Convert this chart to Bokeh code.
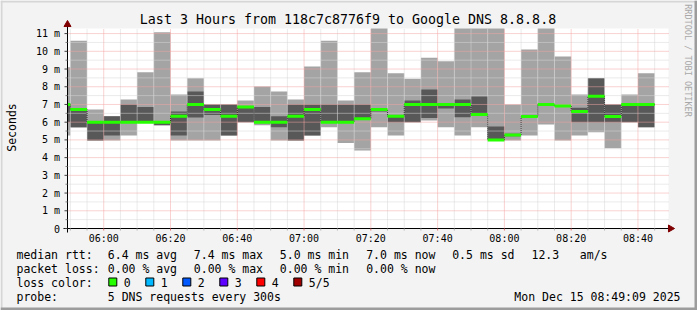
import math
from bokeh.plotting import figure
from bokeh.models import Range1d
from bokeh.core.properties import value
from bokeh.embed import file_html
from bokeh.resources import INLINE

# ---------------- data ----------------
starts = ["05:45", "05:50", "05:55", "06:00", "06:05", "06:10", "06:15", "06:20", "06:25",
          "06:30", "06:35", "06:40", "06:45", "06:50", "06:55", "07:00", "07:05", "07:10",
          "07:15", "07:20", "07:25", "07:30", "07:35", "07:40", "07:45", "07:50", "07:55",
          "08:00", "08:05", "08:10", "08:15", "08:20", "08:25", "08:30", "08:35", "08:40"]
ping_min = [5.25, 5.70, 4.97, 4.97, 5.25, 6.00, 5.82, 4.97, 4.97, 4.97, 5.25, 6.00,
            5.82, 4.97, 4.97, 5.25, 5.72, 4.83, 4.40, 5.72, 5.25, 6.00, 6.10, 5.72,
            5.25, 5.72, 4.98, 4.97, 5.25, 5.87, 4.97, 5.25, 5.43, 4.53, 6.00, 5.72]
ping_p2 = [6.00, 5.72, 4.97, 5.25, 6.00, 6.00, 5.82, 5.25, 6.27, 6.41, 5.25, 6.00,
           6.00, 5.72, 4.97, 5.25, 6.00, 6.00, 6.20, 6.60, 6.00, 6.00, 6.23, 6.77,
           6.28, 6.43, 4.98, 5.20, 6.30, 6.95, 6.85, 6.00, 6.00, 6.00, 6.00, 5.72]
median = [7.00, 6.72, 6.00, 6.00, 6.00, 6.00, 6.00, 6.34, 7.00, 6.72, 6.34, 6.85,
          6.00, 6.00, 6.34, 6.72, 6.00, 6.00, 6.20, 6.72, 6.34, 7.00, 7.00, 7.00,
          7.00, 6.43, 5.00, 5.28, 6.32, 7.00, 6.92, 6.60, 7.47, 6.32, 7.00, 7.00]
ping_p4 = [7.05, 6.75, 6.00, 6.33, 7.00, 6.85, 6.00, 6.60, 7.73, 7.00, 7.00, 6.85,
           6.85, 6.34, 7.00, 7.00, 7.00, 7.00, 7.00, 6.72, 6.40, 7.22, 7.84, 7.00,
           7.28, 7.45, 5.76, 5.35, 6.35, 7.00, 6.92, 6.81, 8.48, 7.00, 7.00, 7.00]
ping_max = [9.10, 10.60, 6.72, 6.33, 7.28, 8.82, 11.08, 7.56, 8.48, 7.00, 7.00, 7.22,
            8.01, 7.73, 7.28, 9.14, 10.60, 7.22, 8.82, 11.30, 8.76, 8.45, 9.63, 9.44,
            11.30, 11.30, 11.30, 7.00, 10.10, 11.30, 9.71, 7.56, 8.48, 7.00, 7.56, 8.76]

x_tick_labels = ["06:00", "06:20", "06:40", "07:00", "07:20", "07:40", "08:00", "08:20", "08:40"]
y_tick_values = [0, 1, 2, 3, 4, 5, 6, 7, 8, 9, 10, 11]
y_tick_labels = ["0", "1 m", "2 m", "3 m", "4 m", "5 m", "6 m", "7 m", "8 m", "9 m", "10 m", "11 m"]

title_text = "Last 3 Hours from 118c7c8776f9 to Google DNS 8.8.8.8"
rtt_label = "median rtt:"
rtt_stats = ["6.4 ms avg", "7.4 ms max", "5.0 ms min", "7.0 ms now", "0.5 ms sd", "12.3", "am/s"]
loss_label = "packet loss:"
loss_stats = ["0.00 % avg", "0.00 % max", "0.00 % min", "0.00 % now"]
color_label = "loss color:"
loss_names = ["0", "1", "2", "3", "4", "5/5"]
loss_colors = ["#26ff00", "#00b8ff", "#0059ff", "#5e00ff", "#ff0000", "#a10000"]
probe_label = "probe:"
probe_text = "5 DNS requests every 300s"
date_text = "Mon Dec 15 08:49:09 2025"
watermark = "RRDTOOL / TOBI OETIKER"
y_axis_title = "Seconds"
range_start = "05:49:09"
range_end = "08:49:09"
y_range_top = 11.287

# ---------------- layout ----------------
def to_min(s):
    parts = [int(v) for v in s.split(":")]
    m = parts[0] * 60 + parts[1]
    if len(parts) > 2:
        m += parts[2] / 60.0
    return m

W, H = 697, 310
FL, FR, FT, FB = 67, 668, 28, 228          # plot canvas edges (pixels)
t0, t1 = to_min(range_start), to_min(range_end)
PXM = (FR - FL) / (t1 - t0)                  # pixels per minute
PXV = (FB - FT) / y_range_top                # pixels per ms

def X(px):   # pixel column -> time scale
    return t0 + (px - FL) / PXM

def Y(py):   # pixel row -> ms scale
    return (FB - py) / PXV

x_start = [max(to_min(s), t0) for s in starts]
x_end = [to_min(s) + 5 for s in starts]
clip = lambda v: min(v, y_range_top)
major_x = [to_min(s) for s in x_tick_labels]
minor_x = [t for t in range(350, 530, 5) if t not in major_x]
minor_y = [v + 0.5 for v in range(0, 11)]

p = figure(width=W, height=H, output_backend="svg", toolbar_location=None,
           x_axis_type=None, y_axis_type=None,
           x_range=Range1d(X(0), X(W)), y_range=Range1d(Y(H), Y(0)),
           min_border=0, outline_line_color=None,
           background_fill_color="#f3f3f3", border_fill_color="#f3f3f3")

MONO = value("DejaVu Sans Mono")

# image border shading
p.quad(left=X(0), right=X(W), top=Y(0), bottom=Y(2), fill_color="#d6d6d6", line_color=None)
p.quad(left=X(0), right=X(2), top=Y(0), bottom=Y(H), fill_color="#d6d6d6", line_color=None)
p.quad(left=X(0), right=X(W), top=Y(H - 3), bottom=Y(H), fill_color="#9c9c9c", line_color=None)
p.quad(left=X(W - 3), right=X(W), top=Y(0), bottom=Y(H), fill_color="#9c9c9c", line_color=None)

# white plot canvas
p.quad(left=t0, right=t1, bottom=0, top=y_range_top, fill_color="white", line_color=None)

# smoke
p.quad(left=x_start, right=x_end, bottom=ping_min, top=[clip(v) for v in ping_max],
       fill_color="#a4a4a4", line_color=None)
p.quad(left=x_start, right=x_end, bottom=ping_p2, top=[clip(v) for v in ping_p4],
       fill_color="#585858", line_color=None)

# grid (drawn over the smoke, as rrdtool does)
p.segment(x0=minor_x, x1=minor_x, y0=0, y1=y_range_top,
          line_color="#d6d6d6", line_width=1, line_dash="1 1")
p.segment(x0=t0, x1=t1, y0=minor_y, y1=minor_y,
          line_color="#d6d6d6", line_width=1, line_dash="1 1")
p.segment(x0=major_x, x1=major_x, y0=0, y1=y_range_top,
          line_color="#f4a4a4", line_width=1, line_dash="1 1")
p.segment(x0=t0, x1=t1, y0=y_tick_values[1:], y1=y_tick_values[1:],
          line_color="#f4a4a4", line_width=1, line_dash="1 1")

# median
p.step(x=x_start + [x_end[-1]], y=median + [median[-1]], mode="after",
       line_color="#202020", line_width=1, line_dash="1 1")
p.segment(x0=x_start, y0=median, x1=x_end, y1=median,
          line_color=loss_colors[0], line_width=3)

# axes
p.segment(x0=X(63), x1=X(670), y0=0, y1=0, line_color="black", line_width=1)
p.segment(x0=t0, x1=t0, y0=Y(232), y1=Y(24), line_color="black", line_width=1)
p.scatter(x=[X(670)], y=[0], marker="triangle", size=7, angle=-math.pi / 2,
          fill_color="#7f0000", line_color="#7f0000")
p.scatter(x=[t0], y=[Y(24)], marker="triangle", size=7,
          fill_color="#7f0000", line_color="#7f0000")
# ticks
p.segment(x0=X(64), x1=t0, y0=y_tick_values, y1=y_tick_values, line_color="#404040")
p.segment(x0=X(65), x1=t0, y0=minor_y, y1=minor_y, line_color="#808080")
p.segment(x0=major_x, x1=major_x, y0=0, y1=Y(230), line_color="#e07070")
p.segment(x0=minor_x, x1=minor_x, y0=0, y1=Y(230), line_color="#b0b0b0")
# tick labels
p.text(x=X(59.5), y=y_tick_values, text=y_tick_labels, text_font=MONO,
       text_font_size="10px", text_align="right", text_baseline="middle", text_color="black")
p.text(x=major_x, y=Y(238), text=x_tick_labels, text_font=MONO,
       text_font_size="10px", text_align="center", text_baseline="middle", text_color="black")

def lab(text, px, py, size="11.5px", align="left", angle=0.0, color="black"):
    # py is the visual centre line of the text
    p.text(x=[X(px)], y=[Y(py)], text=[text], text_font=MONO, text_font_size=size,
           text_align=align, text_baseline="middle", angle=angle, text_color=color)

# title, axis title, watermark
lab(title_text, 347.5, 19.3, size="13.3px", align="center")
lab(y_axis_title, 11, 127, align="center", angle=math.pi / 2)
lab(watermark, 687, 60, size="8.5px", align="center", angle=-math.pi / 2, color="#a8a8a8")

# legend
seg_x = [107.3, 193.3, 279.3, 365.7, 451.7, 531.0, 579.3]
lab(rtt_label, 16, 254.3)
for t, x in zip(rtt_stats, seg_x):
    lab(t, x, 254.3)
lab(loss_label, 16, 268.3)
for t, x in zip(loss_stats, seg_x):
    lab(t, x, 268.3)
lab(color_label, 16, 282)
box_x = [108.3, 145.3, 182.3, 219.3, 256.3, 293.3]
p.quad(left=[X(x) for x in box_x], right=[X(x + 8) for x in box_x],
       top=Y(277.5), bottom=Y(285.5), fill_color=loss_colors, line_color="black")
for name, x in zip(loss_names, box_x):
    lab(name, x + 15, 282)
lab(probe_label, 16, 296)
lab(probe_text, 107.3, 296)
lab(date_text, 680, 296, align="right")

open("out.html", "w").write(file_html(p, INLINE))
